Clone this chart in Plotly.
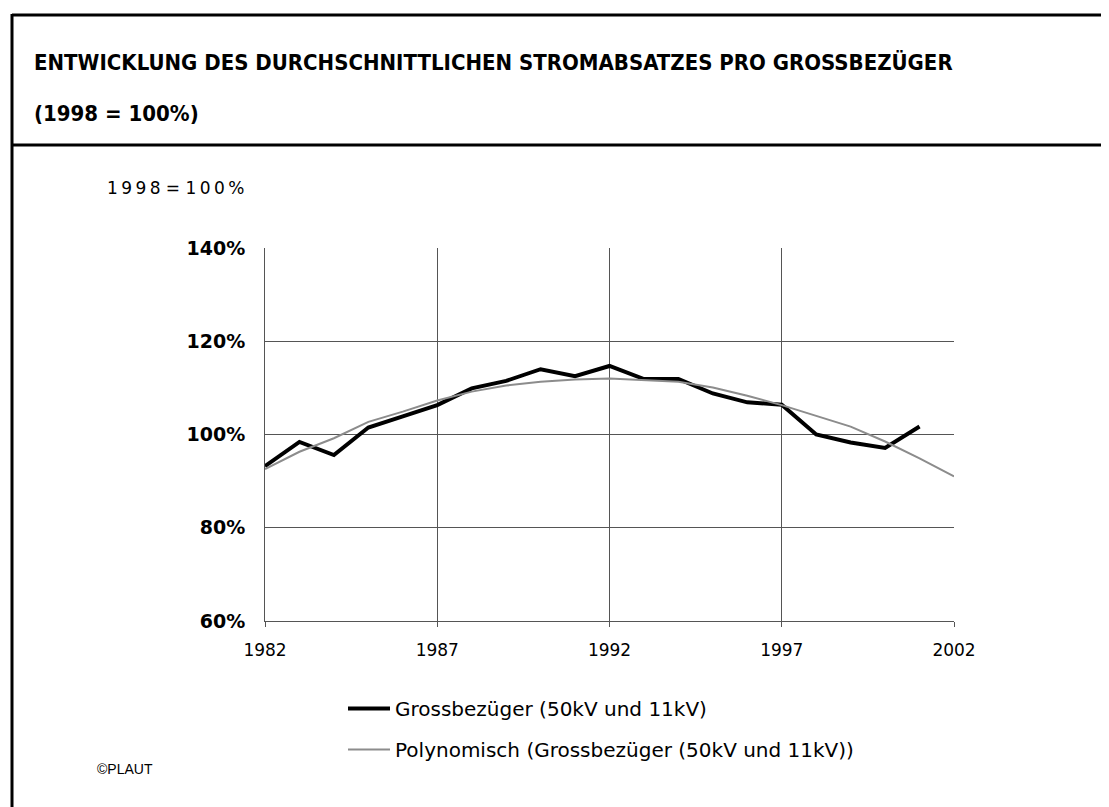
import plotly.graph_objects as go

OFF = 8                      # page body margin
W, H = 1109 - OFF, 807 - OFF
# plot area on screen: x 265..954, y 248..621
L, T = 265 - OFF, 248 - OFF
R, B = W - (954 - OFF), H - (621 - OFF)

years = list(range(1982, 2002))
actual = [93.2, 98.4, 95.6, 101.5, 103.9, 106.3, 109.9, 111.5, 114.0, 112.5,
          114.7, 111.9, 111.9, 108.8, 106.9, 106.4, 100.0, 98.3, 97.1, 101.7]
trend_years = list(range(1982, 2003))
trend = [92.6, 96.3, 99.2, 102.7, 104.9, 107.3, 109.2, 110.5, 111.3, 111.8,
         112.0, 111.7, 111.3, 110.1, 108.3, 106.3, 104.0, 101.7, 98.5, 94.9, 91.0]

y_ticks = [60, 80, 100, 120, 140]
y_labels = ["60%", "80%", "100%", "120%", "140%"]
x_ticks = [1982, 1987, 1992, 1997, 2002]

name1 = "Grossbezüger (50kV und 11kV)"
name2 = "Polynomisch (Grossbezüger (50kV und 11kV))"

PW, PH = W - L - R, H - T - B
def px(x):
    return (x - OFF - L) / PW
def py(y):
    return (H - B - (y - OFF)) / PH

fig = go.Figure()
fig.add_trace(go.Scatter(x=years, y=actual, mode="lines", name=name1,
                         legendgroup="a",
                         line=dict(color="black", width=4)))
fig.add_trace(go.Scatter(x=trend_years, y=trend, mode="lines", name=name2,
                         legendgroup="b",
                         line=dict(color="#8c8c8c", width=2)))

grid = "#555555"
fig.update_layout(
    width=W, height=H, autosize=False,
    margin=dict(l=L, r=R, t=T, b=B, pad=0),
    plot_bgcolor="white", paper_bgcolor="white",
    font=dict(family="DejaVu Sans", color="black"),
    xaxis=dict(range=[1982, 2002], tickvals=x_ticks, ticktext=[str(v) for v in x_ticks],
               showgrid=True, gridcolor=grid, gridwidth=1,
               showline=True, linecolor=grid, linewidth=1, mirror=False,
               ticks="outside", ticklen=5, tickcolor=grid, ticklabelstandoff=9,
               tickfont=dict(size=17, family="DejaVu Sans"), zeroline=False),
    yaxis=dict(range=[60, 140], tickvals=y_ticks, ticktext=y_labels,
               showgrid=True, gridcolor=grid, gridwidth=1,
               showline=True, linecolor=grid, linewidth=1,
               ticks="", ticklabelstandoff=15,
               tickfont=dict(size=19, family="DejaVu Sans", weight="bold"), zeroline=False),
    showlegend=True,
    legend=dict(x=px(343), y=py(689), xanchor="left", yanchor="top",
                font=dict(size=20, family="DejaVu Sans"), itemwidth=42,
                tracegroupgap=12, bgcolor="rgba(0,0,0,0)"),
)

# frame lines
fc = "black"
fig.add_shape(type="line", xref="paper", yref="paper", x0=px(12), x1=px(1120),
              y0=py(15), y1=py(15), line=dict(color=fc, width=3))
fig.add_shape(type="line", xref="paper", yref="paper", x0=px(12), x1=px(1120),
              y0=py(145), y1=py(145), line=dict(color=fc, width=3))
fig.add_shape(type="line", xref="paper", yref="paper", x0=px(12), x1=px(12),
              y0=py(14), y1=py(820), line=dict(color=fc, width=3))

# texts
title_font = dict(size=22, family="DejaVu Sans Condensed", weight="bold")
fig.add_annotation(xref="paper", yref="paper", x=px(32), y=py(63), xanchor="left", yanchor="middle",
                   text="ENTWICKLUNG DES DURCHSCHNITTLICHEN STROMABSATZES PRO GROSSBEZÜGER",
                   showarrow=False, font=title_font)
fig.add_annotation(xref="paper", yref="paper", x=px(32), y=py(113), xanchor="left", yanchor="middle",
                   text="(1998 = 100%)", showarrow=False, font=title_font)
fig.add_annotation(xref="paper", yref="paper", x=px(246), y=py(188), xanchor="right", yanchor="middle",
                   text="1\u20099\u20099\u20098 = 1\u20090\u20090\u2009%", showarrow=False,
                   font=dict(size=17, family="DejaVu Sans"))
fig.add_annotation(xref="paper", yref="paper", x=px(95), y=py(769), xanchor="left", yanchor="middle",
                   text="©PLAUT", showarrow=False,
                   font=dict(size=14, family="Liberation Sans"))

fig.write_html("out.html")
